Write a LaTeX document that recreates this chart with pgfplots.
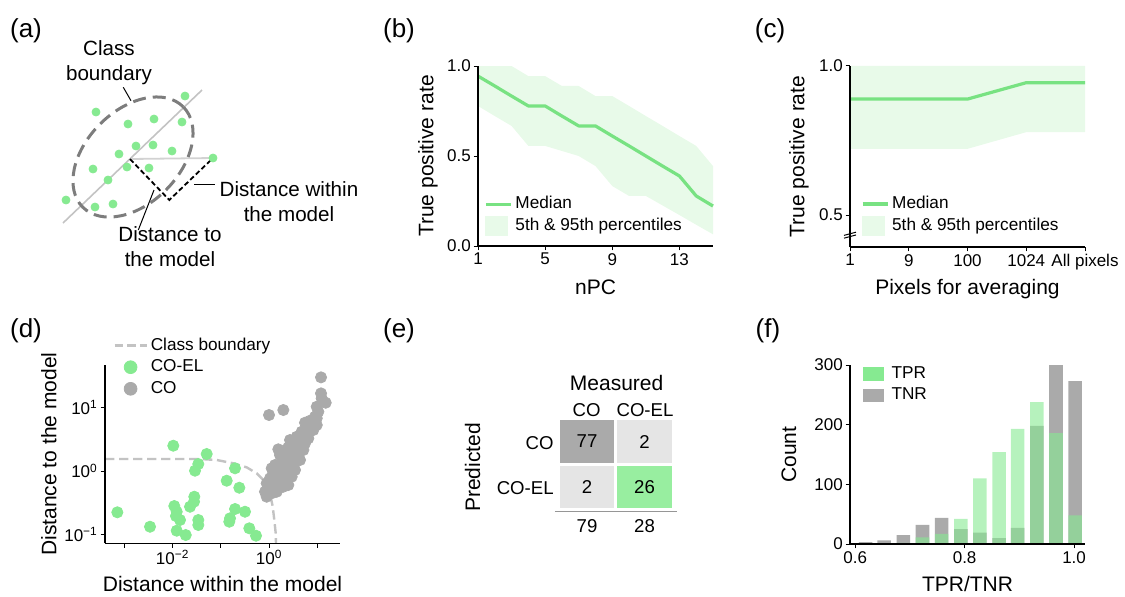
\documentclass[border=0pt]{standalone}
\usepackage{fontspec}
\setmainfont{Liberation Sans}
\usepackage{pgfplots}
\pgfplotsset{compat=1.18}

\definecolor{grn}{RGB}{134,234,145}
\definecolor{med}{RGB}{120,226,130}
\definecolor{band}{RGB}{232,250,233}
\definecolor{gry}{RGB}{170,170,170}
\definecolor{lgry}{RGB}{229,229,229}
\definecolor{cgrn}{RGB}{152,238,160}
\definecolor{bnd}{RGB}{195,195,195}
\definecolor{ell}{RGB}{125,125,125}

\newcommand{\lab}{\fontsize{10.5}{12}\selectfont}
\newcommand{\pan}{\fontsize{13}{15}\selectfont}

\pgfplotsset{
  panel/.style={
    scale only axis, anchor=south west,
    axis lines=left, axis line style={-, line width=0.6pt},
    axis on top,
    tick align=outside, major tick length=2.2pt,
    tick style={black, line width=0.5pt},
    tick label style={font=\fontsize{8.5}{10}\selectfont, inner sep=1.2pt},
    clip=false, legend cell align=left,
    legend style={draw=none, fill=none, font=\fontsize{8.6}{10}\selectfont,
      inner sep=0pt, row sep=1pt, column sep=0.5pt, nodes={inner sep=1pt}},
  },
}

\begin{document}
\begin{tikzpicture}
\useasboundingbox (0,0) rectangle (562.5pt,-298pt);

% ---------- (a) schematic
\begin{axis}[at={(0pt,0pt)}, anchor=north west, scale only axis,
  width=185pt, height=145pt, xmin=0, xmax=370, ymin=0, ymax=290,
  y dir=reverse, axis lines=none, clip=false]
\addplot[color={rgb,255:red,195;green,195;blue,195}, line width=0.8pt] coordinates {(63,223) (202,90)};
\addplot[color={rgb,255:red,210;green,210;blue,210}, line width=0.9pt] coordinates {(130,159) (213,158)};
\addplot[black, line width=0.9pt, dash pattern=on 2.5pt off 1.4pt] coordinates {(130,159) (169.3,200) (213,158)};
\addplot[only marks, mark=*, mark size=2pt, mark options={draw=grn, fill=grn}] coordinates {
 (185,96) (96,112) (128,124) (154,119) (182,122) (136,146) (153,145) (172,151)
 (119,154) (213,158) (93,169) (127,167) (149,168) (108,180) (66,200) (95,207) (113,204)};
\addplot[black, line width=0.5pt] coordinates {(123.3,87.3) (131,100.7)};
\addplot[black, line width=0.5pt] coordinates {(194.3,184.3) (215,184.3)};
\addplot[black, line width=0.5pt] coordinates {(138.3,230) (154,190)};
\end{axis}
\draw[ell, line width=1.5pt, dash pattern=on 6.5pt off 3.5pt, rotate around={45:(66.5pt,-78.5pt)}]
  (66.5pt,-78.5pt) ellipse [x radius=35.5pt, y radius=23.3pt];
\begin{scope}[every node/.style={font=\fontsize{10.3}{12}\selectfont, inner sep=0pt, anchor=base}]
\node at (54.5pt,-27.5pt) {Class};
\node at (54.5pt,-40pt) {boundary};
\node at (144.5pt,-98.3pt) {Distance within};
\node at (144.5pt,-110.8pt) {the model};
\node at (85pt,-120.8pt) {Distance to};
\node at (85pt,-133.3pt) {the model};
\end{scope}

% ---------- (b) TPR vs nPC
\begin{axis}[panel, at={(239pt,-123pt)}, width=117.5pt, height=90pt,
  xmin=1, xmax=15, ymin=0, ymax=1,
  xtick={1,5,9,13}, xticklabels={1,5,9,13},
  ytick={0,0.5,1}, yticklabels={0.0,0.5,1.0},
  legend style={at={(rel axis cs:0.025,0.172)}, anchor=west}]
\addplot[fill=band, draw=none, forget plot] coordinates {
 (1,1.0) (2,1.0) (3,1.0) (4,0.944) (5,0.944) (6,0.889) (7,0.889) (8,0.833)
 (9,0.833) (10,0.778) (11,0.722) (12,0.667) (13,0.611) (14,0.556) (15,0.444)
 (15,0.065) (14,0.118) (13,0.172) (12,0.225) (11,0.278) (10,0.278) (9,0.333)
 (8,0.444) (7,0.5) (6,0.528) (5,0.556) (4,0.556) (3,0.667) (2,0.722) (1,0.778)};
\addplot[med, line width=1.6pt, line join=round, forget plot] coordinates {
 (1,0.944) (2,0.889) (3,0.833) (4,0.778) (5,0.778) (6,0.722) (7,0.667) (8,0.667)
 (9,0.611) (10,0.556) (11,0.5) (12,0.444) (13,0.389) (14,0.278) (15,0.222)};
\addlegendimage{legend image code/.code={\draw[med, line width=1.6pt] (0pt,0pt) -- (12.5pt,0pt);}}
\addlegendentry{Median}
\addlegendimage{legend image code/.code={\fill[band] (0pt,-4.75pt) rectangle (11pt,4.75pt);}}
\addlegendentry{5th \& 95th percentiles}
\end{axis}

% ---------- (c) TPR vs pixels
\begin{axis}[panel, at={(425pt,-123.5pt)}, width=117.5pt, height=90.5pt,
  xmin=0, xmax=4, ymin=0.3926, ymax=1,
  xtick={0,1,2,3,4}, xticklabels={1,9,100,1024,All pixels},
  ytick={0.5,1}, yticklabels={0.5,1.0},
  legend style={at={(rel axis cs:0.045,0.177)}, anchor=west}]
\addplot[fill=band, draw=none, forget plot] coordinates {
 (0,1) (1,1) (2,1) (3,1) (4,1) (4,0.778) (3,0.778) (2,0.722) (1,0.722) (0,0.722)};
\addplot[med, line width=1.6pt, line join=round, forget plot] coordinates {
 (0,0.889) (1,0.889) (2,0.889) (3,0.944) (4,0.944)};
\addlegendimage{legend image code/.code={\draw[med, line width=1.6pt] (0pt,0pt) -- (12.5pt,0pt);}}
\addlegendentry{Median}
\addlegendimage{legend image code/.code={\fill[band] (0pt,-4.75pt) rectangle (11pt,4.75pt);}}
\addlegendentry{5th \& 95th percentiles}
\fill[white] (axis cs:0,0.433) ++(-3pt,-1.6pt) -- ++(6pt,1.6pt) -- ++(0pt,1.4pt) -- ++(-6pt,-1.6pt) -- cycle;
\draw[line width=0.5pt] (axis cs:0,0.433) ++(-3pt,-1.6pt) -- ++(6pt,1.6pt);
\draw[line width=0.5pt] (axis cs:0,0.433) ++(-3pt,-0.2pt) -- ++(6pt,1.6pt);
\end{axis}

% ---------- (d) scatter (log10 values)
\begin{axis}[panel, at={(52.5pt,-271.65pt)}, width=117.5pt, height=89.15pt,
  xmin=-3.405, xmax=1.471, ymin=-1.142, ymax=1.675,
  xtick={-3,-2,-1,0,1}, xticklabels={,10\textsuperscript{−2},,10\textsuperscript{0},},
  ytick={-1,0,1}, yticklabels={10\textsuperscript{−1},10\textsuperscript{0},10\textsuperscript{1}},
  legend style={at={(rel axis cs:0.034,0.989)}, anchor=west, row sep=1.3pt}]
\addplot[only marks, mark=*, mark size=2.8pt, mark options={draw=grn, fill=grn}, forget plot] coordinates {
 (-1.988,0.400) (-1.295,0.269) (-1.469,0.111) (-1.537,0.005) (-0.707,0.043)
 (-0.880,-0.153) (-0.618,-0.264) (-1.552,-0.406) (-1.967,-0.553) (-1.641,-0.564)
 (-1.917,-0.643) (-1.849,-0.774) (-1.469,-0.774) (-1.469,-0.853) (-1.917,-0.943)
 (-1.730,-1.011) (-3.149,-0.652) (-2.471,-0.880) (-0.707,-0.600) (-0.500,-0.643)
 (-0.811,-0.747) (-0.826,-0.801) (-0.411,-0.905) (-0.272,-1.022) (-1.558,-0.485)
 (-1.932,-0.711)};
\addplot[only marks, mark=*, mark size=2.8pt, mark options={draw=gry, fill=gry}, forget plot] coordinates {
 (1.077,1.480) (1.077,1.227) (1.174,1.079) (-0.002,0.885) (0.295,0.964)
 (1.021,0.937) (0.952,0.858) (0.849,0.795) (0.745,0.763) (0.988,0.727)
 (0.917,0.648) (0.813,0.596) (0.710,0.553) (0.606,0.490) (0.502,0.447)
 (0.745,0.490) (0.676,0.384) (0.573,0.332) (0.398,0.374) (0.191,0.343)
 (0.469,0.253) (0.365,0.201) (0.261,0.147) (0.122,0.095) (0.054,0.043)
 (0.434,0.068) (0.330,-0.011) (0.191,-0.063) (0.087,-0.036) (0.019,-0.115)
 (0.261,-0.142) (0.398,-0.221) (0.122,-0.221) (-0.017,-0.273) (0.054,-0.352)
 (-0.050,-0.406) (0.158,-0.327) (0.537,0.174) (0.606,0.280) (0.813,0.675)
 (0.988,1.016) (0.745,0.438) (0.641,0.174) (0.537,0.016) (0.295,-0.248)
 (-0.085,-0.327) (0.019,-0.169) (0.469,-0.090) (0.365,0.122) (0.502,0.359)
 (0.884,0.727) (0.676,0.621) (0.573,0.542) (0.434,0.490) (1.091,1.148)
 (0.315,0.253) (0.158,0.043) (0.226,0.253) (0.398,0.174) (0.122,-0.115)
 (-0.050,-0.194) (0.365,-0.063) (0.087,-0.300) (0.502,0.095) (0.606,0.411)
 (0.226,0.016) (-0.017,-0.352) (0.813,0.517) (0.917,0.779) (0.710,0.332)
 (0.469,0.201) (0.191,-0.273) (0.054,-0.194) (0.330,-0.142) (0.537,0.280)
 (0.641,0.438) (0.745,0.621) (0.988,0.833)};
\addplot[bnd, line width=1.2pt, dash pattern=on 4.7pt off 2.3pt, forget plot] coordinates {
 (-3.405,0.190) (-1.43,0.190) (-1.087,0.174) (-0.743,0.122) (-0.465,0.058)
 (-0.257,-0.036) (-0.085,-0.169) (0.019,-0.352) (0.075,-0.564) (0.108,-0.774)
 (0.137,-0.984) (0.143,-1.142)};
\addlegendimage{legend image code/.code={\draw[bnd, line width=1.2pt, dash pattern=on 4.3pt off 2pt] (0pt,0pt) -- (16pt,0pt);}}
\addlegendentry{Class boundary}
\addlegendimage{legend image code/.code={\fill[grn] (8pt,0pt) circle (3.2pt);}}
\addlegendentry{CO-EL}
\addlegendimage{legend image code/.code={\fill[gry] (8pt,0pt) circle (3.2pt);}}
\addlegendentry{CO}
\end{axis}

% ---------- (e) confusion matrix
\begin{axis}[at={(279.25pt,-254.75pt)}, anchor=south west, scale only axis,
  width=57.5pt, height=45.5pt, xmin=0, xmax=2, ymin=0, ymax=2,
  axis lines=none, clip=false]
\addplot[fill=gry, draw=none] coordinates {(0.026,1.022) (0.965,1.022) (0.965,1.967) (0.026,1.967)};
\addplot[fill=lgry, draw=none] coordinates {(1.017,1.022) (1.974,1.022) (1.974,1.967) (1.017,1.967)};
\addplot[fill=lgry, draw=none] coordinates {(0.026,0.033) (0.965,0.033) (0.965,0.956) (0.026,0.956)};
\addplot[fill=cgrn, draw=none] coordinates {(1.017,0.033) (1.974,0.033) (1.974,0.956) (1.017,0.956)};
\addplot[color={rgb,255:red,150;green,150;blue,150}, line width=0.6pt] coordinates {(-0.061,-0.048) (2.066,-0.048)};
\end{axis}
\begin{scope}[every node/.style={font=\fontsize{9.3}{11}\selectfont, inner sep=0pt}]
\node at (293.5pt,-220.75pt) {77};
\node at (322.25pt,-220.75pt) {2};
\node at (293.5pt,-243.5pt) {2};
\node at (322.25pt,-243.5pt) {26};
\node[anchor=base] at (293.5pt,-266.2pt) {79};
\node[anchor=base] at (322.25pt,-266.2pt) {28};
\node[anchor=base] at (293.3pt,-208.3pt) {CO};
\node[anchor=base] at (322.5pt,-208.3pt) {CO-EL};
\node[anchor=base east] at (277pt,-224.7pt) {CO};
\node[anchor=base east] at (277pt,-247.2pt) {CO-EL};
\end{scope}
\node[font=\lab, inner sep=0pt, anchor=base] at (308.3pt,-195pt) {Measured};
\node[font=\lab, inner sep=0pt, anchor=base, rotate=90] at (240pt,-233.7pt) {Predicted};

% ---------- (f) histogram
\begin{axis}[panel, at={(425pt,-272pt)}, width=117.5pt, height=89.5pt,
  xmin=0.5905, xmax=1.02, ymin=0, ymax=300,
  xtick={0.6,0.8,1.0}, xticklabels={0.6,0.8,1.0},
  ytick={0,100,200,300}, yticklabels={0,100,200,300},
  legend style={at={(rel axis cs:0.055,0.891)}, anchor=west, column sep=3pt, row sep=1.5pt}]
\addplot[ybar, bar width=0.0248, fill=gry, draw=none, forget plot] coordinates {
 (0.619,3) (0.653,6) (0.688,15) (0.723,32) (0.758,44) (0.793,25)
 (0.828,19) (0.863,10) (0.897,27) (0.932,198) (0.967,300) (1.002,273)};
\addplot[ybar, bar width=0.0248, fill=grn, fill opacity=0.6, draw=none, forget plot] coordinates {
 (0.688,2) (0.723,11) (0.758,17) (0.793,42) (0.828,110) (0.863,154)
 (0.897,193) (0.932,238) (0.967,186) (1.002,48)};
\addlegendimage{legend image code/.code={\fill[grn] (0pt,-3.15pt) rectangle (9.7pt,3.15pt);}}
\addlegendentry{TPR}
\addlegendimage{legend image code/.code={\fill[gry] (0pt,-3.15pt) rectangle (9.7pt,3.15pt);}}
\addlegendentry{TNR}
\end{axis}

% ---------- axis labels
\begin{scope}[every node/.style={font=\lab, inner sep=0pt, anchor=base}]
\node at (297.75pt,-147.2pt) {nPC};
\node[rotate=90] at (216.7pt,-78pt) {True positive rate};
\node at (483.75pt,-147.2pt) {Pixels for averaging};
\node[rotate=90] at (402.2pt,-78.25pt) {True positive rate};
\node at (111.25pt,-295.8pt) {Distance within the model};
\node[rotate=90] at (28.2pt,-227pt) {Distance to the model};
\node at (483.75pt,-295.8pt) {TPR/TNR};
\node[rotate=90] at (398pt,-227.25pt) {Count};
\end{scope}

% ---------- panel letters
\begin{scope}[every node/.style={font=\pan, inner sep=0pt, anchor=base}]
\node at (13pt,-18.5pt) {(a)};
\node at (199.5pt,-18.5pt) {(b)};
\node at (385pt,-18.5pt) {(c)};
\node at (13pt,-168.5pt) {(d)};
\node at (199.5pt,-168.5pt) {(e)};
\node at (384pt,-168.5pt) {(f)};
\end{scope}
\end{tikzpicture}
\end{document}
